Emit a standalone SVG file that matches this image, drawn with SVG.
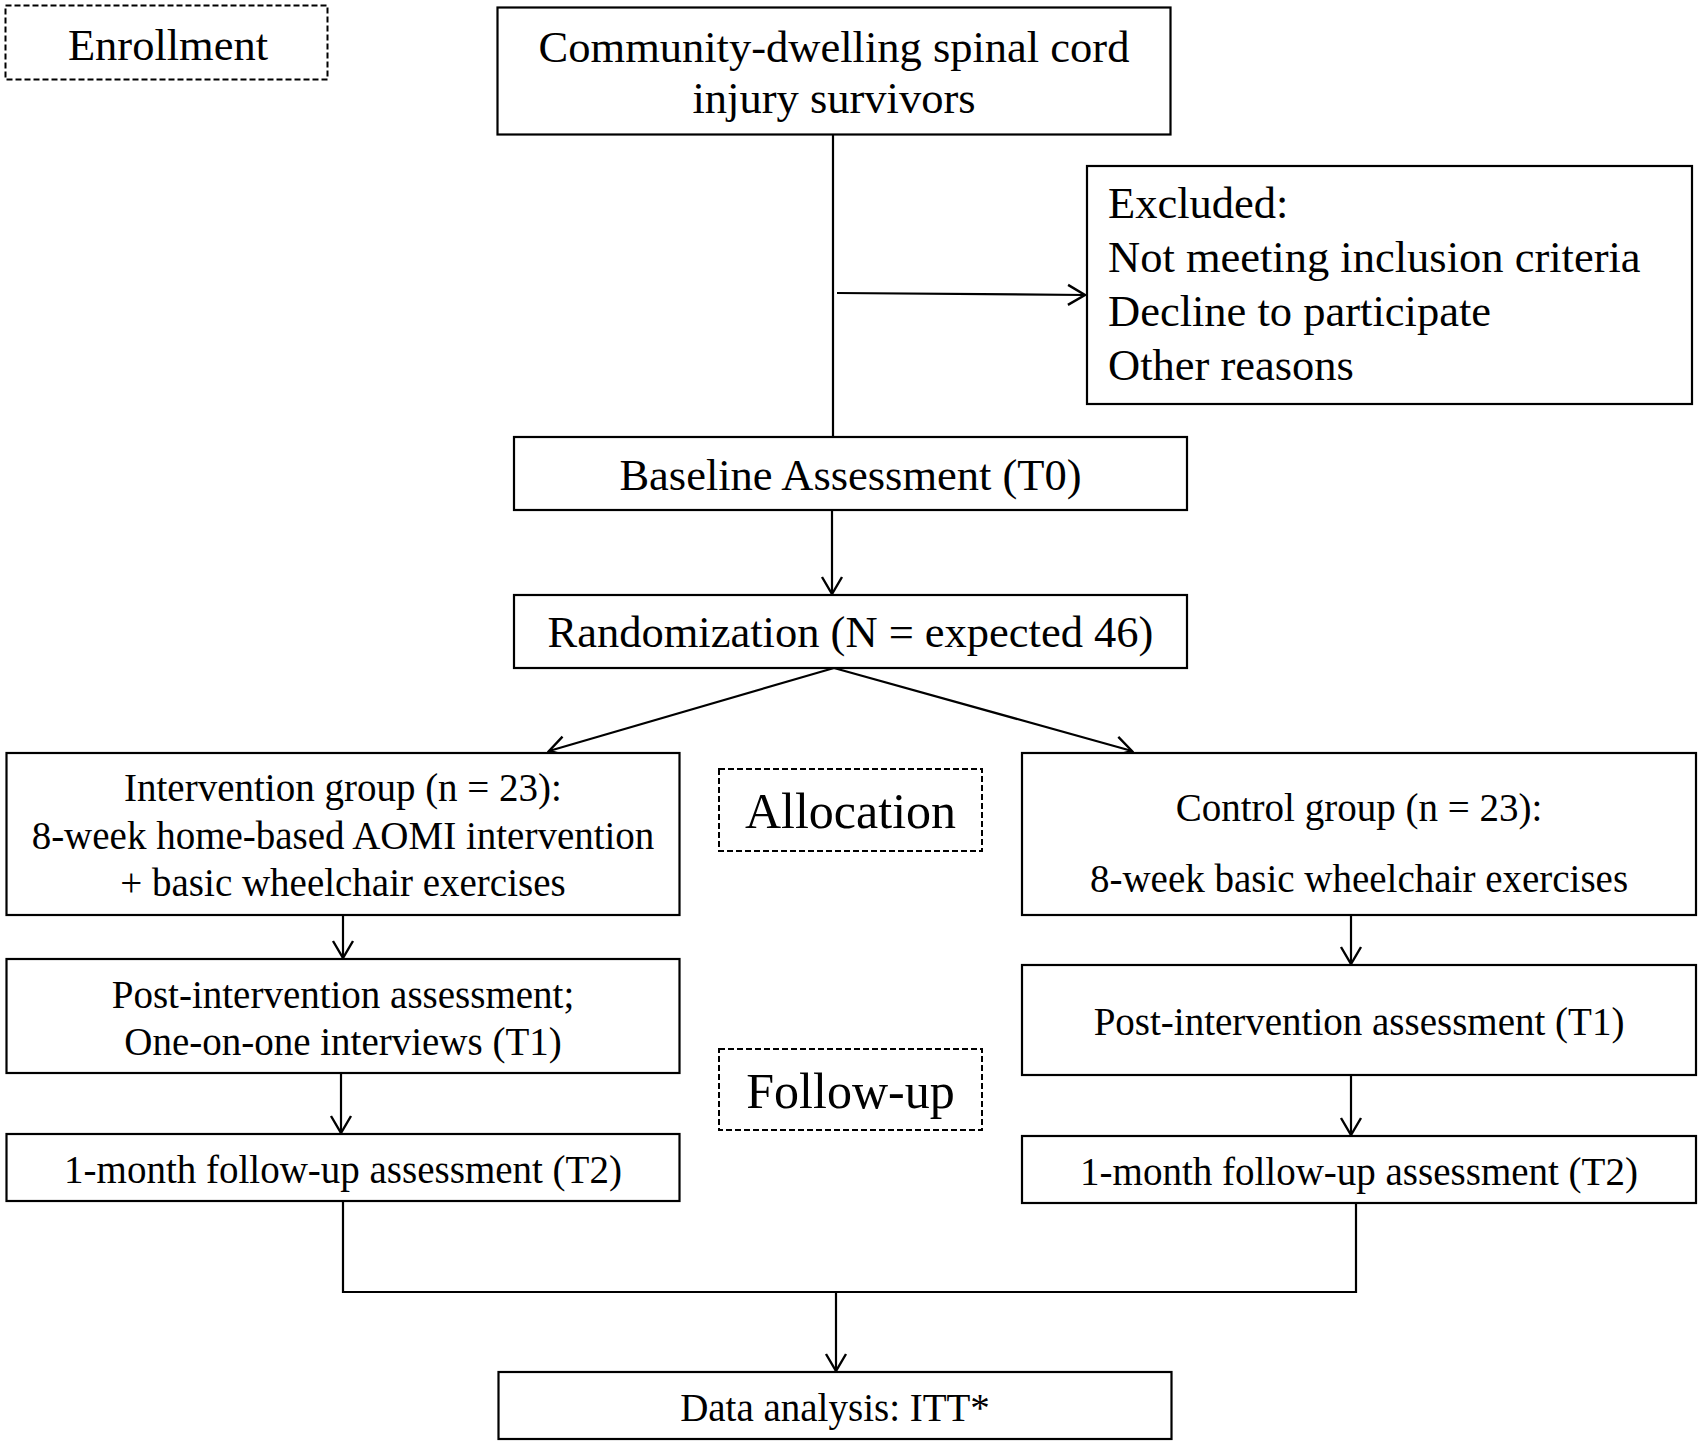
<svg xmlns="http://www.w3.org/2000/svg" width="1703" height="1447" viewBox="0 0 1703 1447">
<style>
  .box { fill: #fff; stroke: #000; stroke-width: 2.2; }
  .dash { fill: #fff; stroke: #000; stroke-width: 2; stroke-dasharray: 6 3; }
  .t { font-family: "Liberation Serif", "Times New Roman", serif; fill: #000; }
  .big { font-size: 44.5px; }
  .mid { font-size: 39px; }
  .lab { font-size: 50px; }
  .c { text-anchor: middle; }
  .ln { fill: none; stroke: #000; stroke-width: 2.2; }
</style>
<defs>
  <marker id="arr" viewBox="-20 -12 22 24" refX="0" refY="0" markerWidth="22" markerHeight="24" markerUnits="userSpaceOnUse" orient="auto">
    <path d="M-17,-10 L0,0 L-17,10" fill="none" stroke="#000" stroke-width="2.4"/>
  </marker>
</defs>
<rect width="1703" height="1447" fill="#fff"/>

<g id="connectors">
  <line class="ln" x1="833" y1="135" x2="833" y2="437"/>
  <line class="ln" x1="837" y1="293" x2="1085" y2="295" marker-end="url(#arr)"/>
  <line class="ln" x1="832" y1="511" x2="832" y2="594" marker-end="url(#arr)"/>
  <line class="ln" x1="834" y1="668" x2="549" y2="751" marker-end="url(#arr)"/>
  <line class="ln" x1="834" y1="668" x2="1132" y2="751" marker-end="url(#arr)"/>
  <line class="ln" x1="343" y1="915" x2="343" y2="958" marker-end="url(#arr)"/>
  <line class="ln" x1="341" y1="1073" x2="341" y2="1133" marker-end="url(#arr)"/>
  <line class="ln" x1="1351" y1="915" x2="1351" y2="964" marker-end="url(#arr)"/>
  <line class="ln" x1="1351" y1="1075" x2="1351" y2="1135" marker-end="url(#arr)"/>
  <polyline class="ln" points="343,1201 343,1292 1356,1292 1356,1203"/>
  <line class="ln" x1="836" y1="1292" x2="836" y2="1371" marker-end="url(#arr)"/>
</g>

<g id="enrollment">
  <rect class="dash" x="5.5" y="5.5" width="322" height="74"/>
  <text class="t big c" x="168" y="60">Enrollment</text>
</g>

<g id="community">
  <rect class="box" x="497.5" y="7.5" width="673" height="127"/>
  <text class="t big c" x="834" y="62">Community-dwelling spinal cord</text>
  <text class="t big c" x="834" y="113">injury survivors</text>
</g>

<g id="excluded">
  <rect class="box" x="1087" y="166" width="605" height="238"/>
  <text class="t big" x="1108" y="218">Excluded:</text>
  <text class="t big" x="1108" y="272">Not meeting inclusion criteria</text>
  <text class="t big" x="1108" y="326">Decline to participate</text>
  <text class="t big" x="1108" y="380">Other reasons</text>
</g>

<g id="baseline">
  <rect class="box" x="514" y="437" width="673" height="73"/>
  <text class="t big c" x="850.5" y="490">Baseline Assessment (T0)</text>
</g>

<g id="randomization">
  <rect class="box" x="514" y="595" width="673" height="73"/>
  <text class="t big c" x="850.5" y="647">Randomization (N = expected 46)</text>
</g>

<g id="intervention">
  <rect class="box" x="6.5" y="753" width="673" height="162"/>
  <text class="t mid c" x="343" y="801">Intervention group (n = 23):</text>
  <text class="t mid c" x="343" y="849">8-week home-based AOMI intervention</text>
  <text class="t mid c" x="343" y="896">+ basic wheelchair exercises</text>
</g>

<g id="allocation">
  <rect class="dash" x="719" y="769" width="263" height="82"/>
  <text class="t lab c" x="850.5" y="828">Allocation</text>
</g>

<g id="control">
  <rect class="box" x="1022" y="753" width="674" height="162"/>
  <text class="t mid c" x="1359" y="821">Control group (n = 23):</text>
  <text class="t mid c" x="1359" y="892">8-week basic wheelchair exercises</text>
</g>

<g id="post-left">
  <rect class="box" x="6.5" y="959" width="673" height="114"/>
  <text class="t mid c" x="343" y="1008">Post-intervention assessment;</text>
  <text class="t mid c" x="343" y="1055">One-on-one interviews (T1)</text>
</g>

<g id="followup-label">
  <rect class="dash" x="719" y="1049" width="263" height="81"/>
  <text class="t lab c" x="850.5" y="1108">Follow-up</text>
</g>

<g id="post-right">
  <rect class="box" x="1022" y="965" width="674" height="110"/>
  <text class="t mid c" x="1359" y="1035">Post-intervention assessment (T1)</text>
</g>

<g id="followup-left">
  <rect class="box" x="6.5" y="1134" width="673" height="67"/>
  <text class="t mid c" x="343" y="1183">1-month follow-up assessment (T2)</text>
</g>

<g id="followup-right">
  <rect class="box" x="1022" y="1136" width="674" height="67"/>
  <text class="t mid c" x="1359" y="1185">1-month follow-up assessment (T2)</text>
</g>

<g id="analysis">
  <rect class="box" x="498.5" y="1372" width="673" height="67"/>
  <text class="t mid c" x="835" y="1421">Data analysis: ITT*</text>
</g>
</svg>
